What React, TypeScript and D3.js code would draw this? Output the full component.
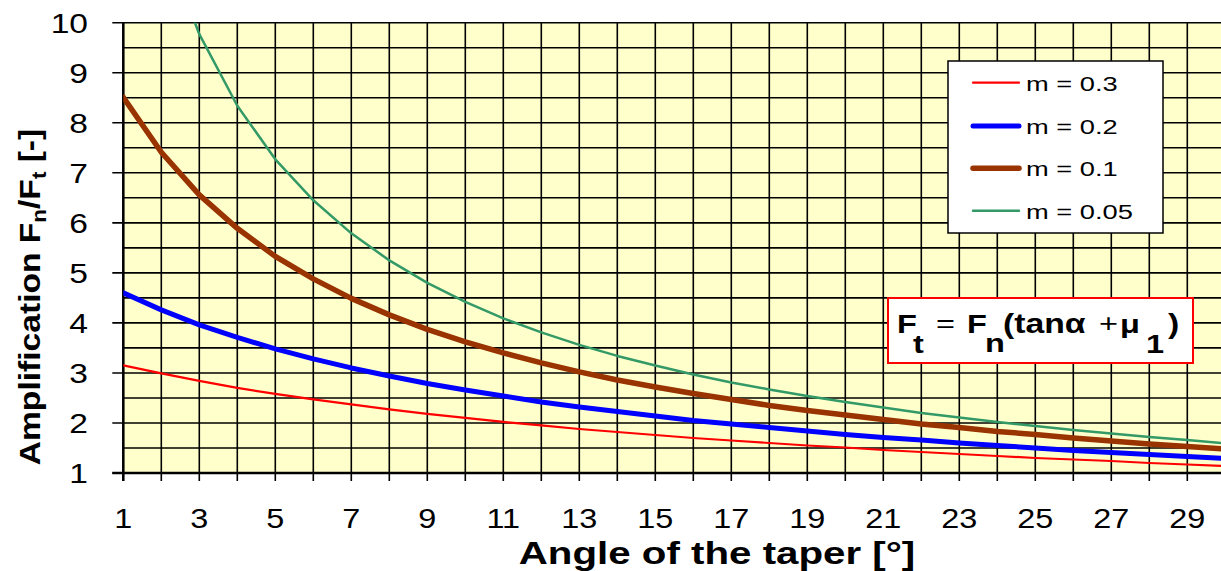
import React from "react";
import * as d3 from "d3";

const angles = d3.range(1, 31);
const m03 = [3.15,2.99,2.84,2.70,2.58,2.47,2.37,2.27,2.18,2.10,2.02,1.95,1.88,1.82,1.76,1.70,1.65,1.60,1.55,1.51,1.46,1.42,1.38,1.34,1.30,1.27,1.24,1.20,1.17,1.14];
const m02 = [4.60,4.26,3.96,3.71,3.48,3.28,3.10,2.94,2.79,2.66,2.54,2.42,2.32,2.23,2.14,2.05,1.98,1.91,1.84,1.77,1.71,1.66,1.60,1.55,1.50,1.45,1.41,1.37,1.33,1.29];
const m01 = [8.51,7.41,6.56,5.89,5.33,4.88,4.49,4.16,3.87,3.62,3.40,3.20,3.02,2.86,2.72,2.59,2.47,2.35,2.25,2.16,2.07,1.98,1.91,1.83,1.77,1.70,1.64,1.58,1.53,1.48];
const m005 = [14.82,11.78,9.77,8.34,7.27,6.45,5.79,5.25,4.80,4.42,4.09,3.81,3.56,3.34,3.15,2.97,2.81,2.67,2.54,2.42,2.31,2.20,2.11,2.02,1.94,1.86,1.79,1.72,1.66,1.59];

const seriesNames = ["m = 0.3", "m = 0.2", "m = 0.1", "m = 0.05"];
const seriesValues = [m03, m02, m01, m005];
const seriesColors = ["#FF0000", "#0000FF", "#993300", "#339966"];
const seriesWidths = [2.2, 5, 5.5, 2.5];

const xTickLabels = d3.range(1, 30, 2);
const yTickLabels = d3.range(1, 11);

const FONT = "'Liberation Sans', Arial, Helvetica, sans-serif";

function SText(props: any) {
  const { x, y, sx = 1.25, rotate = 0, children, ...rest } = props;
  return (
    <text
      transform={`translate(${x},${y}) rotate(${rotate}) scale(${sx},1)`}
      fontFamily={FONT}
      {...rest}
    >
      {children}
    </text>
  );
}

export default function App() {
  const W = 1221;
  const H = 571;
  const left = 123.3;
  const top = 22.7;
  const bottom = 473;
  const right = left + 29 * 38;

  const x = d3.scaleLinear().domain([1, 30]).range([left, right]);
  const y = d3.scaleLinear().domain([1, 10]).range([bottom, top]);

  const line = d3
    .line<number>()
    .x((_, i) => x(angles[i]))
    .y((d) => y(d));

  const vGrid = d3.range(1, 31);
  const hGrid = d3.range(1, 10.01, 0.5);

  const legX = 948;
  const legY = 61;
  const legRows = [82.7, 126, 168.3, 210.7];

  return (
    <svg width={W} height={H} style={{ position: "absolute", left: 0, top: 0, background: "#fff" }}>
      <defs>
        <clipPath id="plotClip">
          <rect x={left} y={top} width={right - left} height={bottom - top} />
        </clipPath>
      </defs>
      <rect x={left} y={top} width={right - left} height={bottom - top} fill="#FFFFCC" />
      {vGrid.map((v) => (
        <line key={"v" + v} x1={x(v)} x2={x(v)} y1={top} y2={bottom + 8} stroke="#000" strokeWidth={1.6} />
      ))}
      {hGrid.map((v) => (
        <line key={"h" + v} x1={Number.isInteger(v) ? left - 11 : left} x2={right} y1={y(v)} y2={y(v)} stroke="#000" strokeWidth={1.6} />
      ))}
      <line x1={left} x2={left} y1={top} y2={bottom + 8} stroke="#000" strokeWidth={2.5} />
      <line x1={left - 11} x2={right} y1={bottom} y2={bottom} stroke="#000" strokeWidth={2.5} />

      <g clipPath="url(#plotClip)">
        {seriesValues.map((vals, i) => (
          <path key={i} d={line(vals) || ""} fill="none" stroke={seriesColors[i]} strokeWidth={seriesWidths[i]} strokeLinejoin="round" strokeLinecap="round" />
        ))}
      </g>

      {yTickLabels.map((v) => (
        <SText key={"yl" + v} x={88} y={y(v) + 10} sx={1.2} fontSize={28} textAnchor="end">
          {v}
        </SText>
      ))}
      {xTickLabels.map((v) => (
        <SText key={"xl" + v} x={x(v)} y={528} sx={1.2} fontSize={27} textAnchor="middle">
          {v}
        </SText>
      ))}

      <SText x={717} y={564} sx={1.3} fontSize={31} fontWeight="bold" textAnchor="middle">
        Angle of the taper [°]
      </SText>
      <SText x={40} y={297} rotate={-90} sx={1.12} fontSize={30} fontWeight="bold" textAnchor="middle">
        Amplification F<tspan fontSize={20} dy={6}>n</tspan>
        <tspan dy={-6}>/F</tspan>
        <tspan fontSize={20} dy={6}>t</tspan>
        <tspan dy={-6}> [-]</tspan>
      </SText>

      <rect x={legX} y={legY} width={215} height={172} fill="#fff" stroke="#000" strokeWidth={1.5} />
      {seriesNames.map((n, i) => (
        <g key={"leg" + i}>
          <line x1={973} x2={1019} y1={legRows[i]} y2={legRows[i]} stroke={seriesColors[i]} strokeWidth={seriesWidths[i]} strokeLinecap="round" />
          <SText x={1026} y={legRows[i] + 8} sx={1.3} fontSize={21}>
            {n}
          </SText>
        </g>
      ))}

      <rect x={888} y={298} width={305} height={65} fill="#fff" stroke="#FF0000" strokeWidth={2} />
      <SText x={897} y={333} sx={1.25} fontSize={26} fontWeight="bold">F</SText>
      <SText x={913} y={353} sx={1.25} fontSize={26} fontWeight="bold">t</SText>
      <SText x={936} y={332} sx={1.25} fontSize={26}>=</SText>
      <SText x={967} y={333} sx={1.25} fontSize={26} fontWeight="bold">F</SText>
      <SText x={985} y={352} sx={1.25} fontSize={26} fontWeight="bold">n</SText>
      <SText x={1003} y={333} sx={1.25} fontSize={27} fontWeight="bold">(tanα</SText>
      <SText x={1099} y={332} sx={1.25} fontSize={26}>+</SText>
      <SText x={1120} y={333} sx={1.25} fontSize={26} fontWeight="bold">μ</SText>
      <SText x={1146} y={353} sx={1.25} fontSize={26} fontWeight="bold">1</SText>
      <SText x={1168} y={333} sx={1.25} fontSize={27} fontWeight="bold">)</SText>
    </svg>
  );
}
